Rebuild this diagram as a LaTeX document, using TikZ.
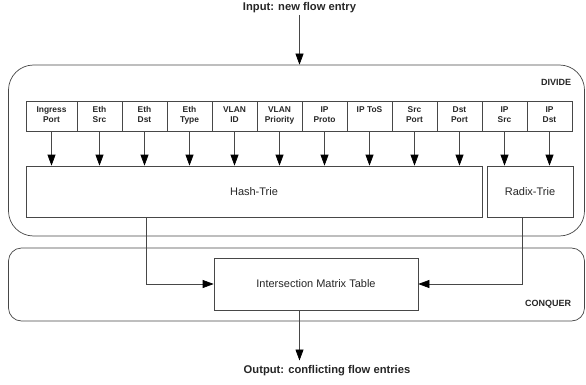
\documentclass[tikz,border=0pt]{standalone}
\usepackage{fontspec}
\setmainfont{Liberation Sans}
\usetikzlibrary{arrows.meta,calc}
\begin{document}
\begin{tikzpicture}[x=1pt,y=-1pt,
  ln/.style={line width=0.7pt, draw=black!72},
  tip/.style={-{Triangle[width=8pt,length=11pt,color=black]}, line width=0.7pt, draw=black!72},
  box/.style={ln, rectangle, inner sep=0pt, font=\fontsize{11}{13}\selectfont, text=black!85},
  field/.style={ln, rectangle, inner sep=0pt},
  ftext/.style={font=\bfseries\fontsize{8.4}{9.4}\selectfont, align=center, anchor=north, inner sep=0pt, text=black!85},
  area/.style={ln, rectangle, inner sep=0pt},
  tag/.style={font=\bfseries\fontsize{9}{11}\selectfont, inner sep=0pt, text=black!85},
  io/.style={font=\bfseries\fontsize{11.2}{13}\selectfont, inner sep=0pt, text=black!85}]
\useasboundingbox (0,0) rectangle (586,385);

% areas
\node[area, rounded corners=25pt, minimum width=576, minimum height=171] (divide) at (296.5,150.5) {};
\node[area, rounded corners=13pt, minimum width=576, minimum height=73] (conquer) at (296.5,284.5) {};
\node[tag] (dtag) at (556,82) {DIVIDE};
\node[tag] (ctag) at (548,304) {CONQUER};

% fields
\foreach \i/\a/\b/\t in {1/26/77/{Ingress\\Port}, 2/77/122/{Eth\\Src}, 3/122/167/{Eth\\Dst},
  4/167/212/{Eth\\Type}, 5/212/257/{VLAN\\ID}, 6/257/302/{VLAN\\Priority},
  7/302/347/{IP\\Proto}, 8/347/392/{IP ToS}, 9/392/437/{Src\\Port},
  10/437/482/{Dst\\Port}, 11/482/527/{IP\\Src}, 12/527/572/{IP\\Dst}} {
  \node[field, minimum width={\b-\a}, minimum height=30] (f\i) at ({(\a+\b)/2},116) {};
  \node[ftext] (ft\i) at ($(f\i.north)+(0,6)$) {\t};
}

% tries
\node[box, minimum width=456, minimum height=51] (ht) at (254,191.5) {Hash-Trie};
\node[box, minimum width=86, minimum height=51] (rt) at (530,191.5) {Radix-Trie};
\node[box, minimum width=204, minimum height=52] (imt) at (316,284) {Intersection Matrix Table};

\foreach \i in {1,...,10} {
  \draw[tip] (f\i.south) -- (f\i.south |- ht.north);
}
\foreach \i in {11,12} {
  \draw[tip] (f\i.south) -- (f\i.south |- rt.north);
}

% input / output
\node[io] (in) at (299.5,8) {Input: new flow entry};
\draw[tip] (in.south) ++(0,1.5) -- (in.south |- divide.north);

\coordinate (hsrc) at (146,217);
\coordinate (rsrc) at (522,217);
\draw[tip] (hsrc) |- (imt.west);
\draw[tip] (rsrc) |- (imt.east);

\node[io] (out) at (327,371) {Output: conflicting flow entries};
\coordinate (ostart) at (299.5,310);
\coordinate (oend) at (299.5,360.5);
\draw[tip] (ostart) -- (oend);
\end{tikzpicture}
\end{document}
